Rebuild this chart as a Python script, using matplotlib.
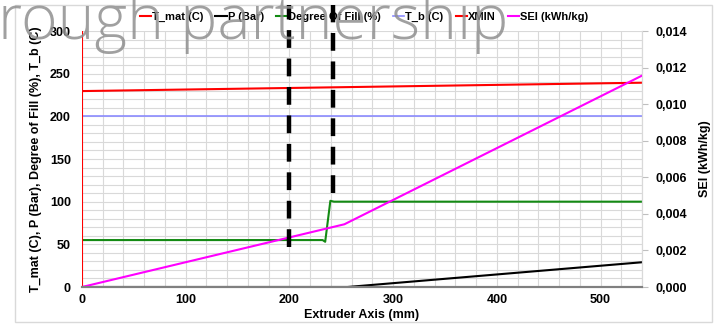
import numpy as np
import matplotlib
matplotlib.use("Agg")
import matplotlib.pyplot as plt
from matplotlib.lines import Line2D
from matplotlib.patches import Rectangle
from matplotlib.ticker import FuncFormatter

plt.rcParams['font.family'] = ['Liberation Sans Narrow', 'Liberation Sans', 'DejaVu Sans']
plt.rcParams['font.weight'] = 'bold'

# data
x_tmat = [0, 540]
y_tmat = [229.6, 239.4]

x_p = [0, 256, 540]
y_p = [0, 0, 29]

x_fill = [0, 232, 234.5, 239.5, 243, 540]
y_fill = [55, 55, 53, 101, 100, 100]

x_tb = [0, 540]
y_tb = [200, 200]

x_xmin = [0, 0]
y_xmin = [0, 300]

x_sei = [0, 253, 540]
y_sei = [0, 0.00343, 0.01156]

# the two dashed markers (x position, lower end)
mark_x = [200, 242]
mark_bottom = [46.6, 110]

fig = plt.figure(figsize=(7.2, 3.24), dpi=100)

# outer chart frame
fig.add_artist(Rectangle((15 / 720, 2 / 324), 697 / 720, 317 / 324, transform=fig.transFigure,
                         fill=False, edgecolor='#d9d9d9', lw=1.0))

ax = fig.add_axes([82 / 720, 1 - 287 / 324, 560 / 720, 256 / 324])
ax2 = ax.twinx()

ax.set_xlim(0, 540)
ax.set_ylim(0, 300)
ax2.set_ylim(0, 0.014)

ax.set_xticks(np.arange(0, 501, 100))
ax.set_xticks(np.arange(0, 541, 20), minor=True)
ax.set_yticks(np.arange(0, 301, 50))
ax.set_yticks(np.arange(0, 301, 10), minor=True)
ax.grid(True, which='both', color='#d9d9d9', lw=0.8)
ax.set_axisbelow(True)
ax.tick_params(which='both', length=0, labelsize=9, pad=5)
ax.tick_params(axis='y', pad=8)

ax2.set_yticks(np.arange(0, 0.0141, 0.002))
ax2.yaxis.set_major_formatter(FuncFormatter(lambda v, p: f"{v:.3f}".replace('.', ',')))
ax2.tick_params(axis='y', length=4, color='#bfbfbf', labelsize=9, pad=6)

for a in (ax, ax2):
    a.spines['top'].set_visible(False)
    a.spines['left'].set_visible(False)
    a.spines['right'].set_color('#d9d9d9')
    a.spines['bottom'].set_color('#808080')
    a.spines['bottom'].set_linewidth(1.5)

h1, = ax.plot(x_tmat, y_tmat, color='#ff0000', lw=1.5, label='T_mat (C)')
h2, = ax.plot(x_p, y_p, color='black', lw=1.5, label='P (Bar)')
h3, = ax.plot(x_fill, y_fill, color='#138a13', lw=1.5, label='Degree Of Fill (%)')
h4, = ax.plot(x_tb, y_tb, color='#8c8cff', lw=1.2, label='T_b (C)')
h5, = ax.plot(x_xmin, y_xmin, color='#ff0000', lw=1.5, label='XMIN')
h6, = ax2.plot(x_sei, y_sei, color='#ff00ff', lw=1.5, label='SEI (kWh/kg)')

ax.set_xlabel('Extruder Axis (mm)', fontsize=9, fontweight='bold', labelpad=2)
ax.set_ylabel('T_mat (C), P (Bar), Degree of Fill (%), T_b (C)', fontsize=9, fontweight='bold', labelpad=6)
ax2.set_ylabel('SEI (kWh/kg)', fontsize=9, fontweight='bold', labelpad=8)

leg = fig.legend(handles=[h1, h2, h3, h4, h5, h6], loc='center', bbox_to_anchor=(364 / 720, 1 - 17 / 324),
                 ncol=6, frameon=False, fontsize=8, handlelength=1.0, handletextpad=0.1,
                 columnspacing=1.1, borderaxespad=0)

# dashed vertical markers, drawn over everything incl. the legend
for mx, mb in zip(mark_x, mark_bottom):
    fig.add_artist(Line2D([mx, mx], [mb, 330], transform=ax.transData, color='black', lw=3.2,
                          linestyle=(0, (4.0, 2.4)), zorder=6))

# watermark
fig.text(-2 / 720, 1 - 39 / 324, 'rough partnership', fontsize=45, family=['Open Sans', 'DejaVu Sans'],
         fontweight='light', color='#8f8f8f', alpha=0.85, zorder=10)

fig.savefig('out.png', dpi=100)
